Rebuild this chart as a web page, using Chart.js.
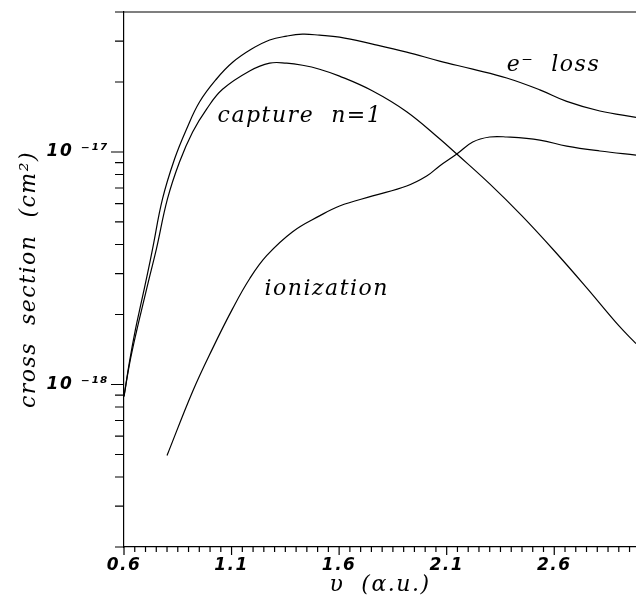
<!DOCTYPE html>
<html>
<head>
<meta charset="utf-8">
<script src="https://cdn.jsdelivr.net/npm/chart.js@4"></script>
<style>
  html, body { margin: 0; padding: 0; background: #fff; overflow: hidden; }
  #wrap { width: 636px; height: 603px; }
</style>
</head>
<body>
<div id="wrap"><canvas id="crossChart"></canvas></div>
<script>
// projectile velocity (a.u.) and cross sections (cm^2)
const lossV = [0.6, 0.626, 0.653, 0.681, 0.709, 0.733, 0.779, 0.835, 0.891, 0.951, 1.03, 1.105, 1.193, 1.277, 1.356, 1.43, 1.509, 1.602, 1.756, 1.914, 2.067, 2.221, 2.379, 2.533, 2.658, 2.812, 2.98];
const lossSigma = [8.88e-19, 1.26e-18, 1.72e-18, 2.27e-18, 2.99e-18, 3.84e-18, 6.28e-18, 9.33e-18, 1.256e-17, 1.64e-17, 2.06e-17, 2.43e-17, 2.77e-17, 3.03e-17, 3.15e-17, 3.21e-17, 3.18e-17, 3.12e-17, 2.91e-17, 2.69e-17, 2.46e-17, 2.27e-17, 2.08e-17, 1.85e-17, 1.65e-17, 1.5e-17, 1.41e-17];

const captureV = [0.6, 0.626, 0.658, 0.691, 0.719, 0.751, 0.802, 0.858, 0.919, 0.984, 1.058, 1.184, 1.277, 1.356, 1.43, 1.509, 1.602, 1.756, 1.914, 2.067, 2.147, 2.3, 2.45, 2.6, 2.75, 2.9, 2.98];
const captureSigma = [8.88e-19, 1.23e-18, 1.69e-18, 2.27e-18, 2.91e-18, 3.84e-18, 6.28e-18, 9.06e-18, 1.22e-17, 1.53e-17, 1.86e-17, 2.23e-17, 2.41e-17, 2.41e-17, 2.36e-17, 2.27e-17, 2.12e-17, 1.83e-17, 1.49e-17, 1.14e-17, 9.8e-18, 7.29e-18, 5.31e-18, 3.76e-18, 2.61e-18, 1.79e-18, 1.5e-18];

const ionV = [0.8, 0.919, 1.012, 1.105, 1.184, 1.263, 1.384, 1.509, 1.602, 1.756, 1.914, 2.007, 2.067, 2.147, 2.221, 2.3, 2.379, 2.533, 2.658, 2.812, 2.98];
const ionSigma = [4.95e-19, 9.33e-19, 1.43e-18, 2.12e-18, 2.85e-18, 3.58e-18, 4.54e-18, 5.31e-18, 5.86e-18, 6.47e-18, 7.14e-18, 7.88e-18, 8.71e-18, 9.8e-18, 1.104e-17, 1.16e-17, 1.16e-17, 1.125e-17, 1.06e-17, 1.01e-17, 9.7e-18];

const xTickLabels = ["0.6", "1.1", "1.6", "2.1", "2.6"];
const yDecades = [1e-18, 1e-17];
const yDecadeLabels = ["10 \u207B\u00B9\u2078", "10 \u207B\u00B9\u2077"];

// curve names written inside the plot
const curveNames = ["e\u207B  loss", "capture  n=1", "ionization"];
const curveNameV = [2.379, 1.035, 1.253];
const curveNameSigma = [2.23e-17, 1.345e-17, 2.43e-18];

// minor x ticks every 0.05, log ticks 1..9 per decade
const xTickValues = [];
for (let i = 0; i <= 47; i++) xTickValues.push(Math.round((0.6 + i * 0.05) * 100) / 100);
const yTickValues = [];
for (let e = -19; e <= -17; e++) {
  for (let m = 1; m <= 9; m++) {
    const v = Number(m + "e" + e);
    if (v >= 2e-19 && v <= 4e-17) yTickValues.push(v);
  }
}

function toPoints(xs, ys) {
  return xs.map((x, i) => ({ x: x, y: ys[i] }));
}

const spacing = {
  id: "spacing",
  beforeDraw(chart) {
    chart.ctx.letterSpacing = "1.5px";
  },
  afterDraw(chart) {
    chart.ctx.letterSpacing = "0px";
  },
};

const tickMarks = {
  id: "tickMarks",
  afterDraw(chart) {
    const { ctx, chartArea, scales } = chart;
    ctx.save();
    ctx.strokeStyle = "#000";
    ctx.lineWidth = 1.2;
    ctx.beginPath();
    scales.x.ticks.forEach((t) => {
      const px = scales.x.getPixelForValue(t.value);
      const len = t.label ? 8 : 5;
      ctx.moveTo(px, chartArea.bottom);
      ctx.lineTo(px, chartArea.bottom + len);
    });
    scales.y.ticks.forEach((t) => {
      const py = scales.y.getPixelForValue(t.value);
      const len = t.label ? 13 : 9;
      ctx.moveTo(chartArea.left - len, py);
      ctx.lineTo(chartArea.left, py);
    });
    ctx.moveTo(chartArea.left, chartArea.top);
    ctx.lineTo(chartArea.right, chartArea.top);
    ctx.stroke();
    ctx.restore();
  },
};

const curveLabels = {
  id: "curveLabels",
  afterDatasetsDraw(chart) {
    const { ctx, scales } = chart;
    ctx.save();
    ctx.font = 'italic 22px "DejaVu Serif"';
    ctx.fillStyle = "#000";
    ctx.textAlign = "left";
    ctx.textBaseline = "alphabetic";
    curveNames.forEach((name, i) => {
      ctx.fillText(name, scales.x.getPixelForValue(curveNameV[i]), scales.y.getPixelForValue(curveNameSigma[i]));
    });
    ctx.restore();
  },
};

const lineStyle = {
  borderColor: "#000",
  borderWidth: 1.2,
  pointRadius: 0,
  fill: false,
  tension: 0.4,
};

const ctx = document.getElementById("crossChart").getContext("2d");
const myChart = new Chart(ctx, {
  type: "line",
  data: {
    datasets: [
      { label: "e- loss", data: toPoints(lossV, lossSigma), ...lineStyle },
      { label: "capture n=1", data: toPoints(captureV, captureSigma), ...lineStyle },
      { label: "ionization", data: toPoints(ionV, ionSigma), ...lineStyle },
    ],
  },
  plugins: [spacing, tickMarks, curveLabels],
  options: {
    responsive: true,
    maintainAspectRatio: false,
    animation: false,
    layout: { padding: { top: 12, right: 0, bottom: 0, left: 0 } },
    plugins: {
      legend: { display: false },
      tooltip: { enabled: false },
    },
    scales: {
      x: {
        type: "linear",
        min: 0.6,
        max: 2.98,
        grid: { display: false, drawTicks: false },
        border: { display: true, color: "#000", width: 1.2 },
        afterBuildTicks: (scale) => {
          scale.ticks = xTickValues.map((v) => ({ value: v }));
        },
        afterFit: (scale) => {
          scale.height = 56;
          scale.paddingLeft = 0;
          scale.paddingRight = 0;
        },
        ticks: {
          autoSkip: false,
          maxRotation: 0,
          padding: 8,
          color: "#000",
          font: { family: "DejaVu Sans", size: 17, style: "italic", weight: "bold" },
          callback: (value) => xTickLabels.find((l) => Math.abs(parseFloat(l) - value) < 1e-9) || "",
        },
        title: {
          display: true,
          text: "\u03C5  (\u03B1.u.)",
          color: "#000",
          font: { family: "DejaVu Serif", size: 22, style: "italic" },
          padding: { top: 0, bottom: 5 },
        },
      },
      y: {
        type: "logarithmic",
        min: 2e-19,
        max: 4e-17,
        grid: { display: false, drawTicks: false },
        border: { display: true, color: "#000", width: 1.2 },
        afterBuildTicks: (scale) => {
          scale.ticks = yTickValues.map((v) => ({ value: v }));
        },
        afterFit: (scale) => {
          scale.width = 124;
          scale.paddingTop = 0;
          scale.paddingBottom = 0;
        },
        ticks: {
          autoSkip: false,
          padding: 15,
          color: "#000",
          font: { family: "DejaVu Sans", size: 17, style: "italic", weight: "bold" },
          callback: (value) => {
            const idx = yDecades.findIndex((d) => Math.abs(value / d - 1) < 1e-6);
            return idx >= 0 ? yDecadeLabels[idx] : "";
          },
        },
        title: {
          display: true,
          text: "cross  section  (cm\u00B2)",
          color: "#000",
          font: { family: "DejaVu Serif", size: 22, style: "italic" },
          padding: { top: 16, bottom: 0 },
        },
      },
    },
  },
});
</script>
</body>
</html>
